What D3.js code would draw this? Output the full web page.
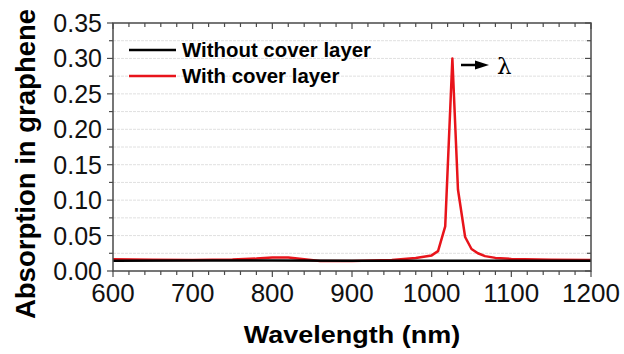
<!DOCTYPE html>
<html>
<head>
<meta charset="utf-8">
<script src="https://cdn.jsdelivr.net/npm/d3@7"></script>
<style>
  body { margin: 0; background: #fff; }
  svg { font-family: "Liberation Sans", Arial, sans-serif; }
</style>
</head>
<body>
<svg id="chart" width="624" height="354"></svg>
<script>
"use strict";

// series
let wavelengthsNoCover = [600, 700, 800, 900, 1000, 1100, 1200];
let absorptionNoCover = [0.0145, 0.0148, 0.0148, 0.0146, 0.0146, 0.0146, 0.0145];

let wavelengthsCover = [600, 650, 700, 750, 780, 800, 820, 840, 860, 900, 950, 980, 1000, 1008, 1017, 1026, 1033, 1042, 1050, 1058, 1067, 1080, 1100, 1150, 1200];
let absorptionCover = [0.0165, 0.0158, 0.0155, 0.0162, 0.0175, 0.0190, 0.0190, 0.0165, 0.0142, 0.0140, 0.0155, 0.0185, 0.0220, 0.0280, 0.0630, 0.3000, 0.1150, 0.0480, 0.0310, 0.0250, 0.0210, 0.0185, 0.0170, 0.0160, 0.0155];

let xTicks = [600, 700, 800, 900, 1000, 1100, 1200];
let yTicks = [0.00, 0.05, 0.10, 0.15, 0.20, 0.25, 0.30, 0.35];
let legendLabels = ["Without cover layer", "With cover layer"];
let legendColors = ["#000000", "#e8141b"];

let svg = d3.select("#chart");
let plotLeft = 113, plotRight = 591, plotTop = 23, plotBottom = 271;

var x = d3.scaleLinear().domain([600, 1200]).range([plotLeft, plotRight]);
var y = d3.scaleLinear().domain([0, 0.35]).range([plotBottom, plotTop]);

let minorX = d3.range(600, 1201, 20);
let minorY = d3.range(0, 0.3501, 0.025);

// grid lines
svg.append("g").selectAll("line")
    .data(minorY.slice(1, -1))
    .enter().append("line")
    .attr("x1", plotLeft).attr("x2", plotRight)
    .attr("y1", d => y(d)).attr("y2", d => y(d))
    .style("stroke", "#e0e0e0")
    .style("stroke-width", 1)
    .style("stroke-dasharray", "3,1");

// data lines
let line = d3.line().x(d => x(d[0])).y(d => y(d[1]));
svg.append("path")
    .datum(d3.zip(wavelengthsCover, absorptionCover))
    .attr("d", line)
    .style("fill", "none")
    .style("stroke", legendColors[1])
    .style("stroke-width", 2.5)
    .style("stroke-linejoin", "round");
svg.append("path")
    .datum(d3.zip(wavelengthsNoCover, absorptionNoCover))
    .attr("d", line)
    .style("fill", "none")
    .style("stroke", legendColors[0])
    .style("stroke-width", 2.5);

// frame
let axisColor = "#4a4a4a";
svg.append("rect")
    .attr("x", plotLeft).attr("y", plotTop)
    .attr("width", plotRight - plotLeft).attr("height", plotBottom - plotTop)
    .style("fill", "none").style("stroke", axisColor).style("stroke-width", 1.5);

// ticks
function tickLines(vals, fn) {
    svg.append("g").selectAll("line").data(vals).enter().append("line")
        .each(function(d) {
            let c = fn(d);
            d3.select(this).attr("x1", c[0]).attr("y1", c[1]).attr("x2", c[2]).attr("y2", c[3]);
        })
        .style("stroke", axisColor).style("stroke-width", 1.2);
}
let isMajorX = d => d % 100 === 0;
let isMajorY = d => Math.abs(d / 0.05 - Math.round(d / 0.05)) < 1e-6;
tickLines(minorX, d => [x(d), plotBottom, x(d), plotBottom + (isMajorX(d) ? 6 : 4)]);
tickLines(minorX, d => [x(d), plotTop, x(d), plotTop + (isMajorX(d) ? 6 : 4)]);
tickLines(minorY, d => [plotLeft, y(d), plotLeft - (isMajorY(d) ? 6 : 4), y(d)]);
tickLines(minorY, d => [plotRight, y(d), plotRight - (isMajorY(d) ? 6 : 4), y(d)]);

// tick labels
svg.append("g").selectAll("text").data(xTicks).enter().append("text")
    .attr("x", d => x(d)).attr("y", 302)
    .attr("text-anchor", "middle")
    .style("font-size", "26px")
    .style("fill", "#111")
    .text(d => d);
svg.append("g").selectAll("text").data(yTicks).enter().append("text")
    .attr("x", 102).attr("y", d => y(d) + 9)
    .attr("text-anchor", "end")
    .style("font-size", "25px")
    .style("fill", "#111")
    .text(d => d.toFixed(2));

// axis titles
svg.append("text")
    .attr("transform", "translate(352,343)scale(1,0.9)")
    .attr("text-anchor", "middle")
    .style("font-size", "27px").style("font-weight", "bold")
    .text("Wavelength (nm)");
svg.append("text")
    .attr("transform", "translate(35,164)rotate(-90)")
    .attr("text-anchor", "middle")
    .style("font-size", "27.5px").style("font-weight", "bold")
    .text("Absorption in graphene");

// legend
let legend = svg.append("g").selectAll("g").data(legendLabels).enter().append("g")
    .attr("transform", (d, i) => `translate(129,${50 + i * 26})`);
legend.append("line")
    .attr("x1", 0).attr("x2", 47)
    .style("stroke", (d, i) => legendColors[i])
    .style("stroke-width", 2.5);
legend.append("text")
    .attr("x", 53).attr("y", 7)
    .style("font-size", "20.4px").style("font-weight", "bold")
    .text(d => d);

// peak annotation: arrow and lambda
let arrowY = 65, arrowX0 = 461, arrowX1 = 489;
svg.append("line")
    .attr("x1", arrowX0).attr("x2", arrowX1 - 10)
    .attr("y1", arrowY).attr("y2", arrowY)
    .style("stroke", "#000").style("stroke-width", 2.5);
svg.append("path")
    .attr("d", `M${arrowX1 - 14},${arrowY - 4.5}L${arrowX1},${arrowY}L${arrowX1 - 14},${arrowY + 4.5}Z`)
    .style("fill", "#000");
svg.append("text")
    .attr("x", 497).attr("y", 74)
    .style("font-size", "23px")
    .style("font-family", "'DejaVu Serif', serif")
    .text("λ");
</script>
</body>
</html>
